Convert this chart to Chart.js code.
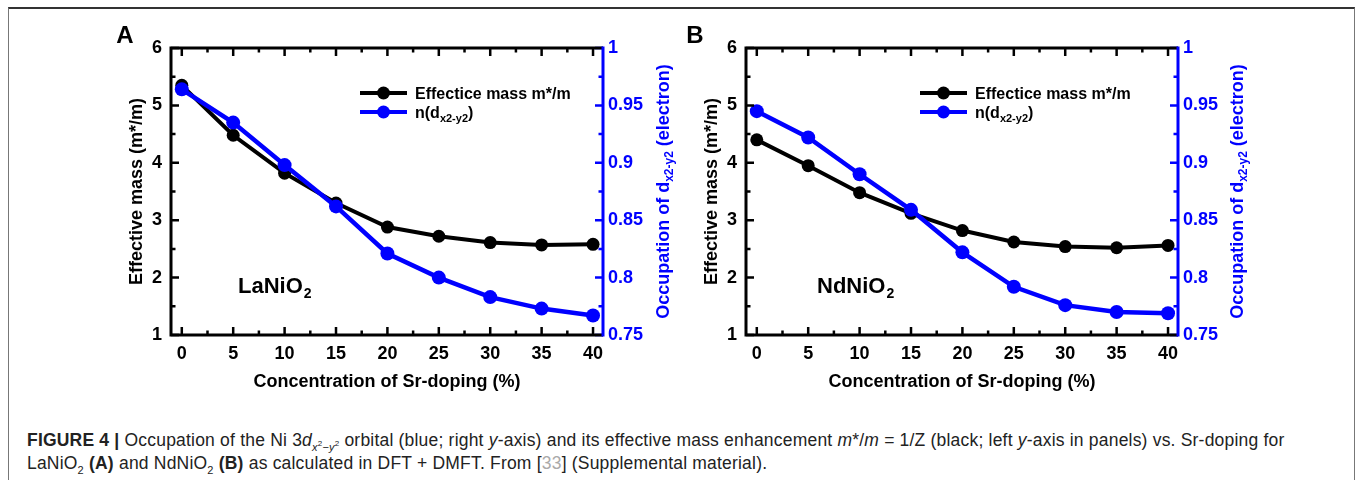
<!DOCTYPE html>
<html lang="en">
<head>
<meta charset="UTF-8">
<title>Effective mass and occupation vs Sr-doping</title>
<script src="https://cdn.jsdelivr.net/npm/chart.js"></script>
<style>
  body { margin: 0; background: #fff; width: 1357px; height: 480px; overflow: hidden; position: relative; font-family: "Liberation Sans", Arial, sans-serif; }
  #frame { position: absolute; left: 8px; top: 7px; width: 1345px; height: 480px; border: 1px solid #777; border-top: 2px solid #333; border-bottom: none; }
  canvas { position: absolute; }
  .cap { position: absolute; left: 27px; font-family: "Liberation Sans Narrow", "Liberation Sans", Arial, sans-serif; font-size: 17.5px; line-height: 23px; letter-spacing: 0.2px; color: #222; white-space: nowrap; }
  .cap sub, .cap sup { line-height: 0; }
  .cap .ref { color: #aaa; }
</style>
</head>
<body>
<div id="frame"></div>
<canvas id="panelA" width="580" height="380" style="left:100px;top:20px"></canvas>
<canvas id="panelB" width="580" height="380" style="left:675px;top:20px"></canvas>
<div class="cap" style="top:429px"><b>FIGURE 4 |</b> Occupation of the Ni 3<i>d</i><sub style="font-size:11px"><i>x</i><sup style="font-size:8px">2</sup>−<i>y</i><sup style="font-size:8px">2</sup></sub> orbital (blue; right <i>y</i>-axis) and its effective mass enhancement <i>m</i>*/<i>m</i> = 1/Z (black; left <i>y</i>-axis in panels) vs. Sr-doping for</div>
<div class="cap" style="top:452px">LaNiO<sub style="font-size:11px">2</sub> <b>(A)</b> and NdNiO<sub style="font-size:11px">2</sub> <b>(B)</b> as calculated in DFT + DMFT. From [<span class="ref">33</span>] (Supplemental material).</div>

<script>
    // Sr-doping concentration (%)
    const doping = [0, 5, 10, 15, 20, 25, 30, 35, 40];

    // LaNiO2 (panel A)
    const massLa = [5.35, 4.48, 3.82, 3.30, 2.88, 2.72, 2.61, 2.57, 2.58];
    const occLa = [0.964, 0.935, 0.898, 0.862, 0.821, 0.800, 0.783, 0.773, 0.767];

    // NdNiO2 (panel B)
    const massNd = [4.40, 3.95, 3.48, 3.12, 2.82, 2.62, 2.54, 2.52, 2.56];
    const occNd = [0.945, 0.922, 0.890, 0.859, 0.822, 0.792, 0.776, 0.770, 0.769];

    // tick labels
    const xTicks = [0, 5, 10, 15, 20, 25, 30, 35, 40];
    const massTicks = [1, 2, 3, 4, 5, 6];
    const occTicks = [0.75, 0.8, 0.85, 0.9, 0.95, 1];
    const occTickLabels = ['0.75', '0.8', '0.85', '0.9', '0.95', '1'];

    const BLUE = '#0000ff';
    const FONT = '"Liberation Sans", Arial, sans-serif';

    // inward ticks with minor ticks halfway, frame, legend and labels
    const decor = {
        id: 'decor',
        afterDraw(chart, args, opts) {
            const { ctx, chartArea: a, scales: { x, y, y1 } } = chart;
            ctx.save();
            ctx.lineCap = 'butt';
            ctx.lineWidth = 2.5;

            const major = 8, minor = 4.5;
            const withMinor = vals => {
                const out = [];
                vals.forEach((v, i) => {
                    out.push([v, major]);
                    if (i < vals.length - 1) out.push([(v + vals[i + 1]) / 2, minor]);
                });
                return out;
            };

            ctx.strokeStyle = '#000';
            ctx.beginPath();
            withMinor(xTicks).forEach(([v, len]) => {
                const px = x.getPixelForValue(v);
                ctx.moveTo(px, a.bottom); ctx.lineTo(px, a.bottom - len);
                ctx.moveTo(px, a.top); ctx.lineTo(px, a.top + len);
            });
            withMinor(massTicks).forEach(([v, len]) => {
                const py = y.getPixelForValue(v);
                ctx.moveTo(a.left, py); ctx.lineTo(a.left + len, py);
            });
            ctx.stroke();

            ctx.strokeStyle = BLUE;
            ctx.beginPath();
            withMinor(occTicks).forEach(([v, len]) => {
                const py = y1.getPixelForValue(v);
                ctx.moveTo(a.right, py); ctx.lineTo(a.right - len, py);
            });
            ctx.stroke();

            // frame
            ctx.lineWidth = 3;
            ctx.strokeStyle = '#000';
            ctx.beginPath();
            ctx.moveTo(a.right, a.top); ctx.lineTo(a.left, a.top);
            ctx.lineTo(a.left, a.bottom); ctx.lineTo(a.right, a.bottom);
            ctx.stroke();
            ctx.strokeStyle = BLUE;
            ctx.beginPath();
            ctx.moveTo(a.right, a.top - 1.5); ctx.lineTo(a.right, a.bottom + 1.5);
            ctx.stroke();

            // right axis title with subscript
            ctx.save();
            ctx.translate(opts.rightTitleX, (a.top + a.bottom) / 2);
            ctx.rotate(-Math.PI / 2);
            ctx.fillStyle = BLUE;
            ctx.textBaseline = 'alphabetic';
            const big = 'bold 18px ' + FONT, small = 'bold 12px ' + FONT;
            const parts = [['Occupation of d', big, 0], ['x2-y2', small, 4], [' (electron)', big, 0]];
            let w = 0;
            parts.forEach(p => { ctx.font = p[1]; w += ctx.measureText(p[0]).width; });
            let cx = -w / 2;
            parts.forEach(p => { ctx.font = p[1]; ctx.fillText(p[0], cx, 6 + p[2]); cx += ctx.measureText(p[0]).width; });
            ctx.restore();

            // legend
            const lg = opts.legend;
            const rows = [
                { color: '#000', parts: [['Effectice mass m*/m', 'bold 16px ' + FONT, 0]] },
                { color: BLUE, parts: [['n(d', 'bold 16px ' + FONT, 0], ['x2-y2', 'bold 11px ' + FONT, 4], [')', 'bold 16px ' + FONT, 0]] }
            ];
            rows.forEach((r, i) => {
                const ly = lg.y + i * 19;
                ctx.strokeStyle = r.color;
                ctx.lineWidth = 4;
                ctx.beginPath(); ctx.moveTo(lg.x, ly); ctx.lineTo(lg.x + 47, ly); ctx.stroke();
                ctx.fillStyle = r.color;
                ctx.beginPath(); ctx.arc(lg.x + 23.5, ly, 6.5, 0, Math.PI * 2); ctx.fill();
                ctx.fillStyle = '#000';
                ctx.textBaseline = 'alphabetic';
                let tx = lg.x + 55;
                r.parts.forEach(p => { ctx.font = p[1]; ctx.fillText(p[0], tx, ly + 6 + p[2]); tx += ctx.measureText(p[0]).width; });
            });

            // compound name
            ctx.fillStyle = '#000';
            ctx.font = 'bold 22px ' + FONT;
            ctx.fillText(opts.name, opts.nameX, opts.nameY);
            const nw = ctx.measureText(opts.name).width;
            ctx.font = 'bold 14px ' + FONT;
            ctx.fillText('2', opts.nameX + nw + 1, opts.nameY + 5);

            // panel letter
            ctx.font = 'bold 24px ' + FONT;
            ctx.textAlign = 'center';
            ctx.fillText(opts.letter, opts.letterX, 23);
            ctx.restore();
        }
    };

    function makePanel(id, mass, occ, extra) {
        const ctx = document.getElementById(id).getContext('2d');
        new Chart(ctx, {
            type: 'line',
            data: {
                datasets: [{
                    label: 'Effectice mass m*/m',
                    data: doping.map((d, i) => ({ x: d, y: mass[i] })),
                    yAxisID: 'y',
                    borderColor: '#000',
                    backgroundColor: '#000',
                    borderWidth: 4,
                    pointRadius: 6.5,
                    pointBorderWidth: 0,
                    order: 1
                }, {
                    label: 'n(dx2-y2)',
                    data: doping.map((d, i) => ({ x: d, y: occ[i] })),
                    yAxisID: 'y1',
                    borderColor: BLUE,
                    backgroundColor: BLUE,
                    borderWidth: 4.5,
                    pointRadius: 7,
                    pointBorderWidth: 0,
                    order: 0
                }]
            },
            options: {
                responsive: false,
                animation: false,
                layout: { padding: { top: 28, left: 0, right: 0, bottom: 0 } },
                plugins: {
                    legend: { display: false },
                    tooltip: { enabled: false },
                    decor: extra
                },
                scales: {
                    x: {
                        type: 'linear',
                        min: -1.05,
                        max: 40.97,
                        afterBuildTicks: s => { s.ticks = xTicks.map(v => ({ value: v })); },
                        afterFit: s => { s.height = 65; },
                        grid: { display: false, drawTicks: false },
                        border: { display: false },
                        ticks: { color: '#000', font: { family: FONT, size: 18, weight: 'bold' }, padding: 8, maxRotation: 0 },
                        title: { display: true, text: 'Concentration of Sr-doping (%)', color: '#000', font: { family: FONT, size: 18, weight: 'bold' }, padding: { top: 0, bottom: 7 } }
                    },
                    y: {
                        position: 'left',
                        min: 1,
                        max: 6,
                        afterBuildTicks: s => { s.ticks = massTicks.map(v => ({ value: v })); },
                        afterFit: s => { s.width = 71; },
                        grid: { display: false, drawTicks: false },
                        border: { display: false },
                        ticks: { color: '#000', font: { family: FONT, size: 18, weight: 'bold' }, padding: 9 },
                        title: { display: true, text: 'Effective mass (m*/m)', color: '#000', font: { family: FONT, size: 18, weight: 'bold' }, padding: { top: 26, bottom: 0 } }
                    },
                    y1: {
                        position: 'right',
                        min: 0.75,
                        max: 1,
                        afterBuildTicks: s => { s.ticks = occTicks.map(v => ({ value: v })); },
                        afterFit: s => { s.width = 77; },
                        grid: { display: false, drawTicks: false },
                        border: { display: false },
                        ticks: { color: BLUE, font: { family: FONT, size: 18, weight: 'bold' }, padding: 5, callback: (v, i) => occTickLabels[i] }
                    }
                }
            },
            plugins: [decor]
        });
    }

    makePanel('panelA', massLa, occLa, { letter: 'A', letterX: 25, name: 'LaNiO', nameX: 138, nameY: 273, legend: { x: 260, y: 73 }, rightTitleX: 563 });
    makePanel('panelB', massNd, occNd, { letter: 'B', letterX: 20, name: 'NdNiO', nameX: 142, nameY: 273, legend: { x: 245, y: 73 }, rightTitleX: 562 });
</script>
</body>
</html>
